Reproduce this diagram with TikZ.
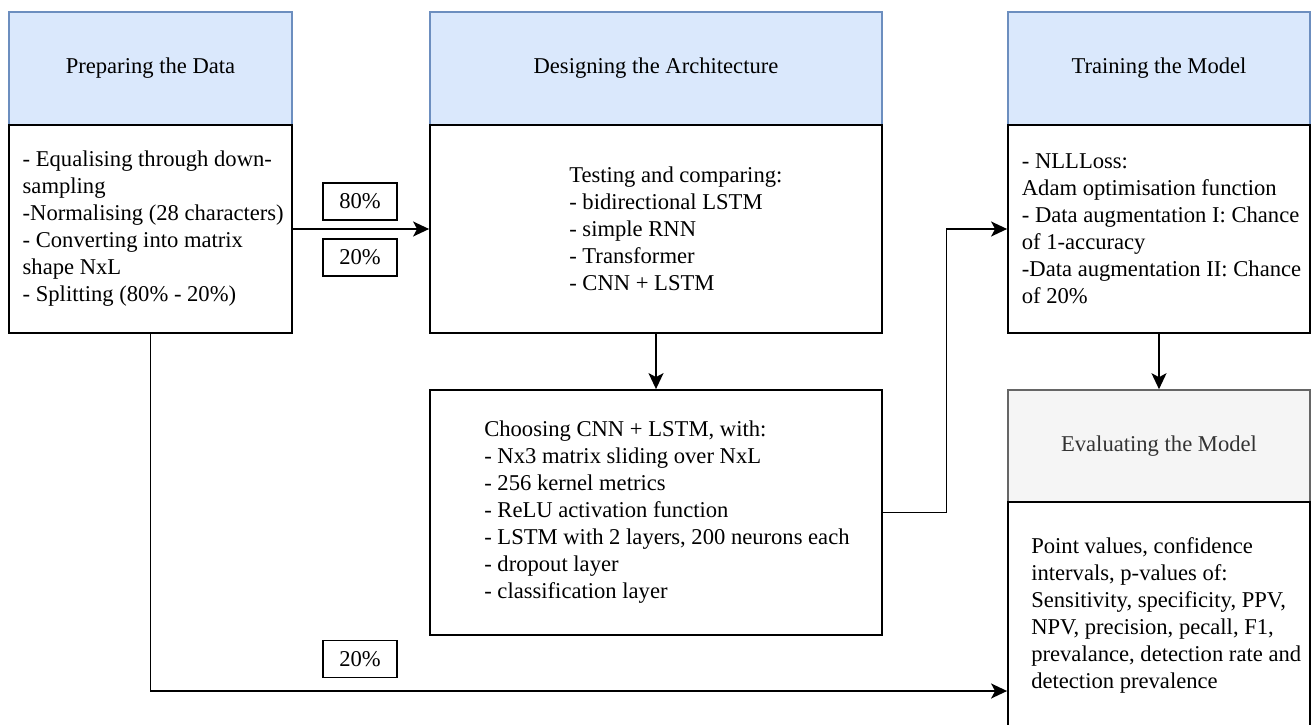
\documentclass[tikz,border=0pt]{standalone}
\usepackage{fontspec}
\setmainfont{Liberation Serif}
\newfontfamily\diagfont{Liberation Serif}
\usetikzlibrary{arrows.meta}
\definecolor{headfill}{HTML}{DAE8FC}
\definecolor{headline}{HTML}{6C8EBF}
\definecolor{evalfill}{HTML}{F5F5F5}
\definecolor{evalline}{HTML}{666666}
\definecolor{evaltext}{HTML}{333333}
\tikzset{
  head/.style={draw=headline, fill=headfill, line width=1.6pt, inner sep=0pt},
  body/.style={draw=black, fill=white, line width=1.8pt, inner sep=0pt},
  pct/.style={draw=black, fill=white, line width=1.6pt, minimum width=74pt, minimum height=37pt, inner sep=0pt},
  txt/.style={align=left, inner sep=0pt, anchor=west},
  flow/.style={line width=1.8pt, -{Stealth[length=16pt, width=15pt, inset=4pt]}}
}
\begin{document}
\begin{tikzpicture}[x=1pt, y=-1pt, font=\diagfont\fontsize{22.6}{27}\selectfont]
  \path[use as bounding box, fill=white] (0,0) rectangle (1312,725);
  \clip (0,0) rectangle (1312,725);
  % phase headers
  \node[head, minimum width=283pt, minimum height=113pt] (h1) at (150.5,68.5) {Preparing the Data};
  \node[head, minimum width=452pt, minimum height=113pt] (h2) at (656,68.5) {Designing the Architecture};
  \node[head, minimum width=302pt, minimum height=113pt] (h3) at (1159,68.5) {Training the Model};
  \node[head, draw=evalline, fill=evalfill, text=evaltext, minimum width=302pt, minimum height=112pt] (h4) at (1159,446) {Evaluating the Model};
  % phase bodies
  \node[body, minimum width=283pt, minimum height=208pt] (b1) at (150.5,229) {};
  \node[body, minimum width=452pt, minimum height=208pt] (b2) at (656,229) {};
  \node[body, minimum width=302pt, minimum height=208pt] (b3) at (1159,229) {};
  \node[body, minimum width=452pt, minimum height=245pt] (choose) at (656,512.5) {};
  \node[body, minimum width=302pt, minimum height=226pt] (b4) at (1159,615) {};
  % body texts
  \node[txt] (t1) at ([xshift=14.4pt]b1.west) {- Equalising through down-\\sampling\\-Normalising (28 characters)\\- Converting into matrix\\shape NxL\\- Splitting (80\% - 20\%)};
  \node[txt] (t2) at ([xshift=140pt]b2.west) {Testing and comparing:\\- bidirectional LSTM\\- simple RNN\\- Transformer\\- CNN + LSTM};
  \node[txt] (t3) at ([xshift=14.6pt]b3.west) {- NLLLoss:\\Adam optimisation function\\- Data augmentation I: Chance\\of 1-accuracy\\-Data augmentation II: Chance\\of 20\%};
  \node[txt] (tc) at ([xshift=55pt]choose.west) {Choosing CNN + LSTM, with:\\- Nx3 matrix sliding over NxL\\- 256 kernel metrics\\- ReLU activation function\\- LSTM with 2 layers, 200 neurons each\\- dropout layer\\- classification layer};
  \node[txt] (t4) at ([xshift=24pt]b4.west) {Point values, confidence\\intervals, p-values of:\\Sensitivity, specificity, PPV,\\NPV, precision, pecall, F1,\\prevalance, detection rate and\\detection prevalence};
  % split labels
  \node[pct] (p80) at (360,201.5) {80\%};
  \node[pct] (p20) at (360,257.5) {20\%};
  \node[pct] (p20b) at (360,659) {20\%};
  % connectors
  \draw[flow] (b1.east) -- (b2.west);
  \draw[flow] (b2.south) -- (choose.north);
  \draw[flow] (choose.east) -- ++(63.6,0) |- (b3.west);
  \draw[flow] (b3.south) -- (h4.north);
  \draw[flow] (b1.south) |- ([yshift=-76pt]b4.west);
\end{tikzpicture}
\end{document}
